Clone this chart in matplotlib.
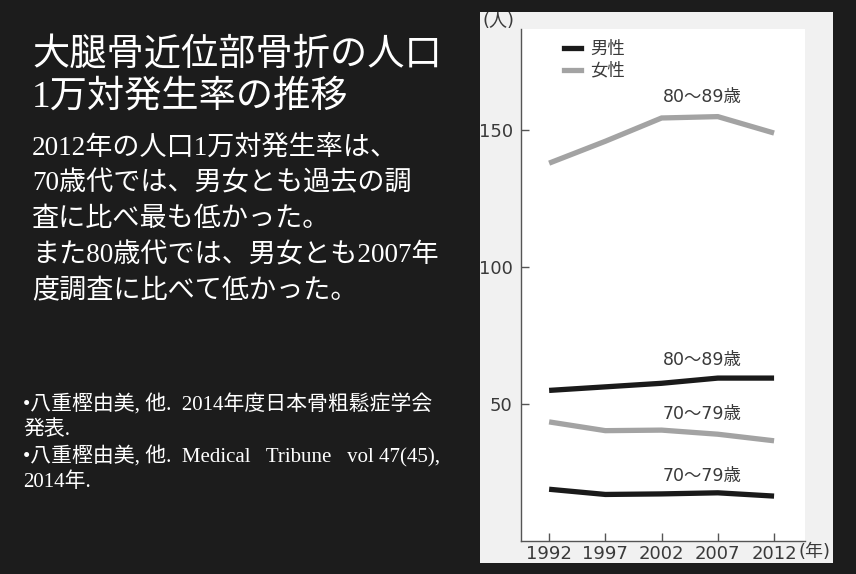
import matplotlib
matplotlib.use("Agg")
import matplotlib.pyplot as plt
from matplotlib.lines import Line2D

plt.rcParams['font.family'] = ['DejaVu Sans', 'Noto Sans CJK JP']

years = [1992, 1997, 2002, 2007, 2012]
female_80s = [138, 146, 154.5, 155, 149]
male_80s = [55, 56.3, 57.6, 59.5, 59.5]
female_70s = [43.5, 40.3, 40.5, 39, 36.6]
male_70s = [18.9, 17.0, 17.2, 17.6, 16.4]
ytick_vals = [50, 100, 150]
legend_labels = ['男性', '女性']

title_lines = ['大腿骨近位部骨折の人口', '1万対発生率の推移']
body_lines = ['2012年の人口1万対発生率は、',
              '70歳代では、男女とも過去の調',
              '査に比べ最も低かった。',
              'また80歳代では、男女とも2007年',
              '度調査に比べて低かった。']
ref_lines = ['•八重樫由美, 他.  2014年度日本骨粗鬆症学会',
             '発表.',
             '•八重樫由美, 他.  Medical   Tribune   vol 47(45),',
             '2014年.']

W, H = 856, 574
BG = '#1c1c1c'
BLACK = '#1a1a1a'
GRAY = '#a3a3a3'
TXT = '#3a3a3a'

fig = plt.figure(figsize=(W / 100, H / 100), dpi=100, facecolor=BG)

def fx(px):
    return px / W

def fy(py):
    return 1 - py / H

# light panel behind the chart
panel = fig.add_axes([fx(480), fy(563), fx(833) - fx(480), fy(12) - fy(563)], zorder=-5)
panel.set_facecolor('#f1f1f1')
panel.set_xticks([])
panel.set_yticks([])
for s in panel.spines.values():
    s.set_visible(False)

ax = fig.add_axes([fx(521), fy(541), fx(805) - fx(521), fy(29) - fy(541)], zorder=1)
ax.set_facecolor('white')
ax.set_xlim(1989.5, 2014.75)
ax.set_ylim(0, 187)

lw = 3.8
for vals, col in [(female_80s, GRAY), (male_80s, BLACK), (female_70s, GRAY), (male_70s, BLACK)]:
    ax.plot(years, vals, color=col, lw=lw, solid_joinstyle='miter', solid_capstyle='butt')

for s in ['top', 'right']:
    ax.spines[s].set_visible(False)
for s in ['left', 'bottom']:
    ax.spines[s].set_color('#555555')
    ax.spines[s].set_linewidth(1.0)

ax.set_xticks(years)
ax.set_xticklabels([str(y) for y in years])
ax.set_yticks(ytick_vals)
ax.set_yticklabels([str(v) for v in ytick_vals])
ax.tick_params(axis='both', direction='in', length=6, width=1, color='#555555',
               labelsize=13, labelcolor=TXT)
ax.tick_params(axis='x', pad=3)
ax.tick_params(axis='y', pad=6)

lab_kw = dict(fontsize=12.5, color=TXT, ha='center', va='center')
ax.text(2005.6, 162, '80〜89歳', **lab_kw)
ax.text(2005.6, 66, '80〜89歳', **lab_kw)
ax.text(2005.6, 46.4, '70〜79歳', **lab_kw)
ax.text(2005.6, 23.7, '70〜79歳', **lab_kw)

handles = [Line2D([], [], color=BLACK, lw=lw), Line2D([], [], color=GRAY, lw=lw)]
ax.legend(handles, legend_labels, loc='upper left', bbox_to_anchor=(fx(564), fy(40)),
          bbox_transform=fig.transFigure, frameon=False, handlelength=1.0,
          handletextpad=0.5, labelspacing=0.22, fontsize=12.5, labelcolor=TXT,
          borderaxespad=0, borderpad=0)

fig.text(fx(482), fy(21), '(人)', fontsize=13, color=TXT, ha='left', va='center')
fig.text(fx(799), fy(552), '(年)', fontsize=13, color=TXT, ha='left', va='center')

serif_cjk = ['Liberation Serif', 'Noto Sans CJK JP']
for i, line in enumerate(title_lines):
    fig.text(fx(32), fy(55 + i * 42), line, fontsize=26.8, color='white',
             family=serif_cjk, ha='left', va='center')
for i, line in enumerate(body_lines):
    fig.text(fx(32), fy(148 + i * 36), line, fontsize=19.5, color='white',
             family=serif_cjk, ha='left', va='center')
for i, line in enumerate(ref_lines):
    fig.text(fx(23), fy(405 + i * 25.7), line, fontsize=15, color='white',
             family=serif_cjk, ha='left', va='center')

fig.savefig('out.png', dpi=100, facecolor=BG)
